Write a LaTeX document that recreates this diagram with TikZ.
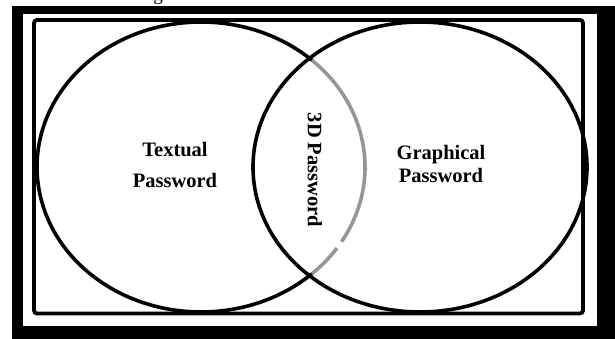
\documentclass[tikz,border=0pt]{standalone}
\usepackage{fontspec}
\setmainfont{Liberation Serif}
\definecolor{arcgray}{RGB}{150,150,150}
\begin{document}
\begin{tikzpicture}[x=1pt,y=1pt,
  label/.style={font=\fontsize{20.5}{24}\selectfont\bfseries, inner sep=0pt},
  ring/.style={line width=3.6pt},
  frame/.style={line width=3.8pt, rounded corners=3pt}]
  \useasboundingbox (0,0) rectangle (615,339);
  % heavy black outer border
  \fill[black] (12,0) rectangle (615,333);
  \fill[white] (23,13) rectangle (597,325);
  % descender of the caption line above
  \node[font=\fontsize{19}{22}\selectfont, anchor=base, inner sep=0pt] (cap) at (158,338) {g};
  % inner frame
  \draw[frame] (34,25.5) rectangle (583,319);
  % left set: black outer arc, grey arc inside the overlap
  \draw[ring] (201,172) ++(47.4:164 and 145) arc[start angle=47.4, end angle=312.6, x radius=164, y radius=145];
  \draw[ring, arcgray] (201,172) ++(-47.4:164 and 145) arc[start angle=-47.4, end angle=-34, x radius=164, y radius=145];
  \draw[ring, arcgray] (201,172) ++(-31:164 and 145) arc[start angle=-31, end angle=47.4, x radius=164, y radius=145];
  % right set
  \draw[ring] (420,172) ellipse[x radius=167, y radius=145];
  % labels
  \node[label, anchor=base] (t1) at (175,182) {Textual};
  \node[label, anchor=base] (t2) at (175,151) {Password};
  \node[label, anchor=base] (g1) at (441,179) {Graphical};
  \node[label, anchor=base] (g2) at (441,156) {Password};
  \node[label, rotate=-90] (d3) at (315,169) {3D Password};
\end{tikzpicture}
\end{document}
